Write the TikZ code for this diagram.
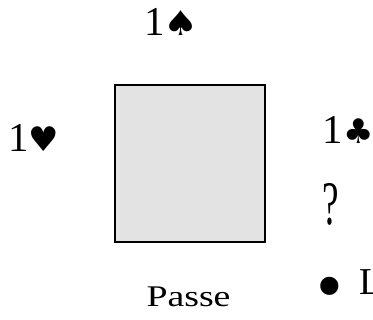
\documentclass[tikz,border=0pt]{standalone}
\usepackage{fontspec}
\setmainfont{Liberation Serif}
\newfontfamily\suitfont{DejaVu Sans}
\definecolor{tablegray}{RGB}{227,227,227}
\begin{document}
\begin{tikzpicture}[x=1pt,y=-1pt,
  txt/.style={inner sep=0pt, outer sep=0pt, anchor=base},
  digit/.style={txt, font=\fontsize{41}{41}\selectfont},
  suit/.style={txt, font=\suitfont\fontsize{34}{34}\selectfont},
  tablebox/.style={draw=black, line width=2pt, fill=tablegray,
    minimum width=150pt, minimum height=157pt, inner sep=0pt}]
\useasboundingbox (0,0) rectangle (373,320);
% the table in the middle
\node[tablebox] (table) at (190,163.5) {};
% North: 1 spade
\node[digit] (northnum) at (155,36) {1};
\node[suit] (northsuit) at (181.5,36) {\scalebox{1.15}[1]{♠}};
% West: 1 heart
\node[digit] (westnum) at (18.3,152) {1};
\node[suit] (westsuit) at (43.5,152) {♥};
% East: 1 club, then the question
\node[digit] (eastnum) at (333,144) {1};
\node[suit] (eastsuit) at (358.5,144) {♣};
\node[txt, font=\fontsize{62}{62}\selectfont] (query) at (331,225) {\scalebox{0.6}[1]{?}};
\node[txt, font=\fontsize{38}{38}\selectfont] (dot) at (329.5,312) {\scalebox{2}{•}};
\node[txt, anchor=base west, font=\fontsize{38}{38}\selectfont] (lead) at (359.5,295) {L};
% South: pass
\node[txt, anchor=base west, font=\fontsize{30}{30}\selectfont] (south) at (146.5,307) {\scalebox{1.26}[1]{Passe}};
\end{tikzpicture}
\end{document}
